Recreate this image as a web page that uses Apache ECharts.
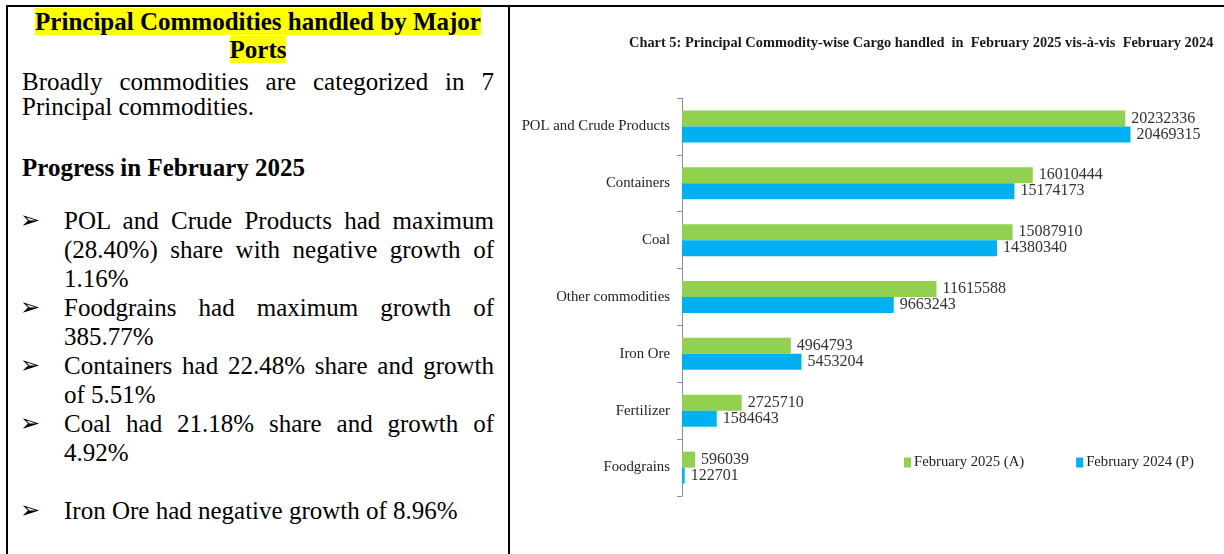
<!DOCTYPE html>
<html>
<head>
<meta charset="utf-8">
<script src="https://cdn.jsdelivr.net/npm/echarts@6/dist/echarts.min.js"></script>
<style>
  html, body { margin: 0; padding: 0; background: #fff; }
  body { width: 1224px; height: 554px; position: relative; overflow: hidden;
         font-family: "Liberation Serif", "Times New Roman", serif; color: #000; }
  .rule-top { position: absolute; left: 6px; top: 5px; width: 1218px; height: 2px; background: #000; }
  .rule-left { position: absolute; left: 6px; top: 5px; width: 2px; height: 549px; background: #000; }
  .rule-mid { position: absolute; left: 508px; top: 5px; width: 2px; height: 549px; background: #000; }
  .ln { position: absolute; font-family: "Liberation Serif", serif; font-size: 25px; white-space: nowrap; }
  .just { text-align: justify; text-align-last: justify; white-space: normal; }
  .hl { background: #ffff00; font-weight: bold; }
  .ttl { position: absolute; left: 8px; width: 500px; text-align: center; font-family: "Liberation Serif", serif;
         font-size: 25px; font-weight: bold; line-height: 27.5px; }
  .bul { position: absolute; left: 20px; font-family: "DejaVu Sans", sans-serif; font-size: 24px; }
  #chart { position: absolute; left: 510px; top: 8px; width: 714px; height: 546px; }
</style>
</head>
<body>
<div class="rule-top"></div>
<div class="rule-left"></div>
<div class="rule-mid"></div>

<div class="ttl" style="top:8px;"><span class="hl">Principal Commodities handled by Major</span><br><span class="hl">Ports</span></div>

<div id="notes"></div>

<div id="chart"></div>

<script>
// left panel text, one entry per printed line
var introLines = ['Broadly commodities are categorized in 7', 'Principal commodities.'];
var heading = 'Progress in February 2025';
var bulletPoints = [
  ['POL and Crude Products had maximum', '(28.40%) share with negative growth of', '1.16%'],
  ['Foodgrains had maximum growth of', '385.77%'],
  ['Containers had 22.48% share and growth', 'of 5.51%'],
  ['Coal had 21.18% share and growth of', '4.92%'],
  null,
  ['Iron Ore had negative growth of 8.96%']
];

// chart data
var chartTitle = 'Chart 5: Principal Commodity-wise Cargo handled  in  February 2025 vis-\u00e0-vis  February 2024';
var commodities = ['POL and Crude Products', 'Containers', 'Coal', 'Other commodities', 'Iron Ore', 'Fertilizer', 'Foodgrains'];
var feb2025 = [20232336, 16010444, 15087910, 11615588, 4964793, 2725710, 596039];
var feb2024 = [20469315, 15174173, 14380340, 9663243, 5453204, 1584643, 122701];
var seriesNames = ['February 2025 (A)', 'February 2024 (P)'];

// ------------------------------------------------------- //
// Notes panel
// ------------------------------------------------------ //
var notes = document.getElementById('notes');
function addLine(text, left, width, centerY, lh, isLast, bold) {
  var d = document.createElement('div');
  d.className = 'ln' + (isLast ? '' : ' just');
  d.style.left = left + 'px';
  d.style.width = width + 'px';
  d.style.top = (centerY - lh / 2) + 'px';
  d.style.lineHeight = lh + 'px';
  d.style.height = lh + 'px';
  if (bold) d.style.fontWeight = 'bold';
  d.textContent = text;
  notes.appendChild(d);
}
introLines.forEach(function (t, i) {
  addLine(t, 22, 472, 81 + i * 25, 25, i == introLines.length - 1);
});
addLine(heading, 22, 472, 167, 25, true, true);

var y = 220;
bulletPoints.forEach(function (b) {
  if (b == null) { y += 29; return; }
  var m = document.createElement('div');
  m.className = 'bul';
  m.style.top = (y - 14.5) + 'px';
  m.style.lineHeight = '29px';
  m.textContent = '\u27a2';
  notes.appendChild(m);
  b.forEach(function (t, i) {
    addLine(t, 64, 430, y, 29, i == b.length - 1);
    y += 29;
  });
});

// ------------------------------------------------------- //
// Commodity chart
// ------------------------------------------------------ //
var chartEl = echarts.init(document.getElementById('chart'));
var serif = '"Liberation Serif", "Times New Roman", serif';
var valueLabel = { show: true, position: 'right', distance: 6, fontFamily: serif, fontSize: 16, color: '#333' };
var option = {
  animation: false,
  textStyle: { fontFamily: serif },
  title: {
    text: chartTitle,
    left: 114,
    top: 23,
    textStyle: { fontFamily: serif, fontSize: 14.4, fontWeight: 'bold', color: '#1a1a1a' }
  },
  legend: {
    data: seriesNames,
    left: 389,
    top: 442,
    itemWidth: 7,
    itemHeight: 10,
    itemGap: 52,
    icon: 'rect',
    textStyle: { fontFamily: serif, fontSize: 14.7, color: '#222', padding: [0, 0, 0, -2] }
  },
  grid: { left: 172, top: 90, width: 482, height: 398 },
  xAxis: {
    type: 'value',
    min: 0,
    max: 22000000,
    show: false
  },
  yAxis: {
    type: 'category',
    inverse: true,
    data: commodities,
    axisLine: { show: true, lineStyle: { color: '#8c8c8c', width: 1 } },
    axisTick: { show: true, length: 5, lineStyle: { color: '#8c8c8c' } },
    axisLabel: { fontFamily: serif, fontSize: 14.8, color: '#222', margin: 12 },
    splitLine: { show: false }
  },
  series: [
    {
      name: seriesNames[0],
      type: 'bar',
      data: feb2025,
      barWidth: 16,
      barGap: '0%',
      itemStyle: { color: '#92d050' },
      label: valueLabel
    },
    {
      name: seriesNames[1],
      type: 'bar',
      data: feb2024,
      barWidth: 16,
      barGap: '0%',
      itemStyle: { color: '#00b0f0' },
      label: valueLabel
    }
  ]
};
chartEl.setOption(option);
</script>
</body>
</html>
